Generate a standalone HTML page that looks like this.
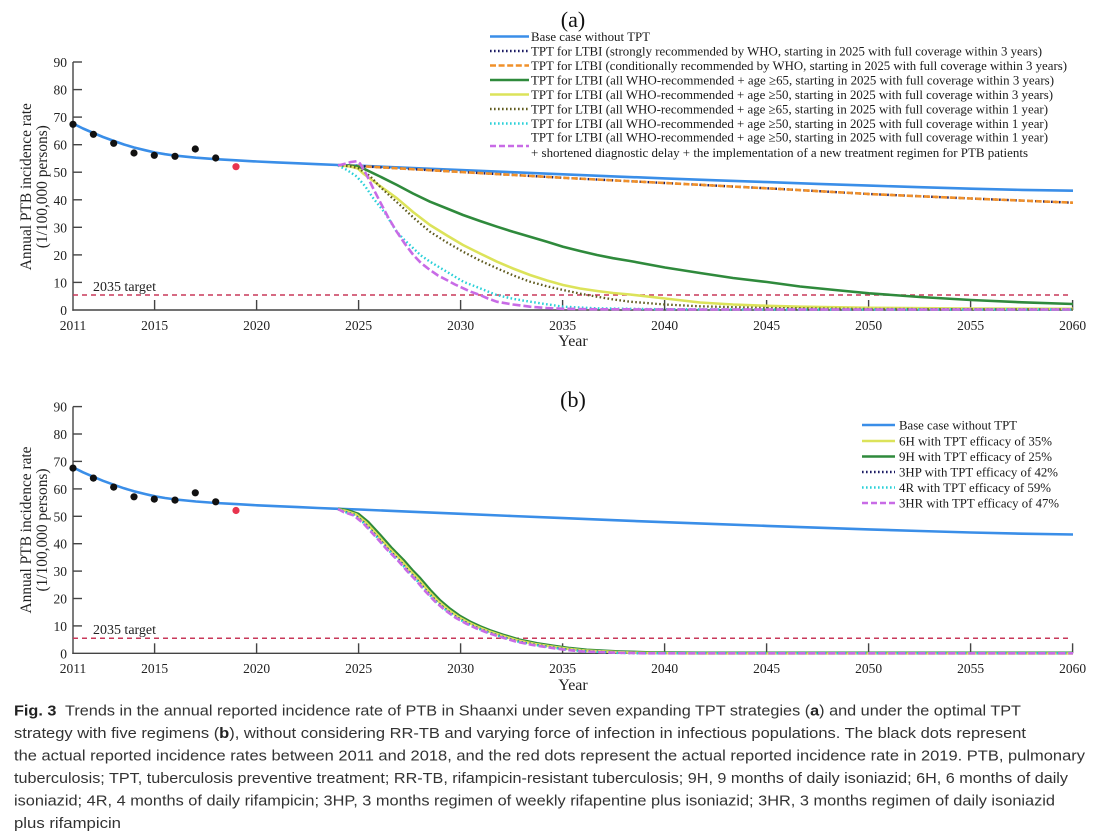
<!DOCTYPE html>
<html>
<head>
<meta charset="utf-8">
<style>
  html,body{margin:0;padding:0;background:#fff;}
  svg{display:block;}
  .tk{font-family:"Liberation Serif",serif;font-size:13.5px;fill:#222;}
  .lg{font-family:"Liberation Serif",serif;font-size:13px;fill:#1a1a1a;}
  .yl{font-family:"Liberation Serif",serif;font-size:16px;fill:#222;}
  .cap{font-family:"Liberation Sans",sans-serif;font-size:15px;fill:#333;}
</style>
</head>
<body>
<svg width="1113" height="837" viewBox="0 0 1113 837" xmlns="http://www.w3.org/2000/svg">
<rect width="1113" height="837" fill="#fff"/>

<!-- ================= PANEL (a) ================= -->
<text x="573" y="27" text-anchor="middle" font-family="Liberation Serif, serif" font-size="22" fill="#111">(a)</text>

<!-- axes -->
<g stroke="#444" stroke-width="1.4" fill="none">
  <line x1="73" y1="62" x2="73" y2="310.7"/>
  <line x1="72.3" y1="310" x2="1073" y2="310"/>
  <!-- y ticks -->
  <line x1="73" y1="62" x2="82" y2="62"/>
  <line x1="73" y1="89.6" x2="82" y2="89.6"/>
  <line x1="73" y1="117.1" x2="82" y2="117.1"/>
  <line x1="73" y1="144.7" x2="82" y2="144.7"/>
  <line x1="73" y1="172.2" x2="82" y2="172.2"/>
  <line x1="73" y1="199.8" x2="82" y2="199.8"/>
  <line x1="73" y1="227.3" x2="82" y2="227.3"/>
  <line x1="73" y1="254.9" x2="82" y2="254.9"/>
  <line x1="73" y1="282.4" x2="82" y2="282.4"/>
  <!-- x ticks -->
  <line x1="154.6" y1="310" x2="154.6" y2="300"/>
  <line x1="256.6" y1="310" x2="256.6" y2="300"/>
  <line x1="358.6" y1="310" x2="358.6" y2="300"/>
  <line x1="460.6" y1="310" x2="460.6" y2="300"/>
  <line x1="562.6" y1="310" x2="562.6" y2="300"/>
  <line x1="664.6" y1="310" x2="664.6" y2="300"/>
  <line x1="766.6" y1="310" x2="766.6" y2="300"/>
  <line x1="868.6" y1="310" x2="868.6" y2="300"/>
  <line x1="970.6" y1="310" x2="970.6" y2="300"/>
  <line x1="1072.6" y1="310" x2="1072.6" y2="300"/>
</g>
<g class="tk" text-anchor="end">
  <text x="67" y="67">90</text>
  <text x="67" y="94.6">80</text>
  <text x="67" y="122.1">70</text>
  <text x="67" y="149.7">60</text>
  <text x="67" y="177.2">50</text>
  <text x="67" y="204.8">40</text>
  <text x="67" y="232.3">30</text>
  <text x="67" y="259.9">20</text>
  <text x="67" y="287.4">10</text>
  <text x="67" y="315">0</text>
</g>
<g class="tk" text-anchor="middle">
  <text x="73" y="330">2011</text>
  <text x="154.6" y="330">2015</text>
  <text x="256.6" y="330">2020</text>
  <text x="358.6" y="330">2025</text>
  <text x="460.6" y="330">2030</text>
  <text x="562.6" y="330">2035</text>
  <text x="664.6" y="330">2040</text>
  <text x="766.6" y="330">2045</text>
  <text x="868.6" y="330">2050</text>
  <text x="970.6" y="330">2055</text>
  <text x="1072.6" y="330">2060</text>
</g>
<text x="573" y="346" text-anchor="middle" font-family="Liberation Serif, serif" font-size="16" fill="#222">Year</text>
<text class="yl" transform="translate(31,186.7) rotate(-90)" text-anchor="middle" textLength="167" lengthAdjust="spacingAndGlyphs">Annual PTB incidence rate</text>
<text class="yl" transform="translate(47,186.7) rotate(-90)" text-anchor="middle" textLength="123" lengthAdjust="spacingAndGlyphs">(1/100,000 persons)</text>

<!-- target -->
<line x1="73" y1="295" x2="1071" y2="295" stroke="#c8385a" stroke-width="1.5" stroke-dasharray="5 4"/>
<text x="93" y="291" font-family="Liberation Serif, serif" font-size="13.5" fill="#222" textLength="63" lengthAdjust="spacingAndGlyphs">2035 target</text>

<!-- series (a) -->
<g fill="none" stroke-linejoin="round">
  <polyline stroke="#3a8ee8" stroke-width="2.6" points="73,123.5 83,128.5 93.4,133 103,137 114,141 124,144.5 134,147.5 145,150.2 155,152.5 165,154.2 175,155.6 186,156.7 196,157.7 216,159.2 236,160.3 257,161.5 277,162.4 298,163.3 318,164.2 338,165 359,165.7 410,167.9 461,170 512,172.2 563,174.3 614,176.4 665,178.4 716,180.3 767,182.1 818,183.9 869,185.6 920,187.2 971,188.7 1022,189.9 1073,190.7"/>
  <polyline stroke="#1c1c64" stroke-width="2.4" stroke-dasharray="1.6 2.4" points="340,165.2 358,166 461,172 563,177.8 665,183 780,189 869,194 971,198.5 1073,202.7"/>
  <polyline stroke="#f0902a" stroke-width="2.6" stroke-dasharray="6 2.6" points="340,165.2 358,166 461,172 563,177.8 665,183 780,189 869,194 971,198.5 1073,202.7"/>
  <polyline stroke="#2f8a3c" stroke-width="2.6" points="338,165.2 350,165.8 358,166.5 363,168.3 380,176.5 397,185 413,193.5 430,201.7 447,208.5 463,215 480,221 497,226.7 513,231.8 530,236.7 547,241.7 563,246.7 580,251 597,255 613,258.2 630,261 665,267.5 700,273 733,278 767,282 800,286.5 835,290 869,293.3 920,297 971,300 1022,302.3 1073,304"/>
  <polyline stroke="#dce35a" stroke-width="2.6" points="338,165.2 350,166.5 358,168.5 363,173.3 380,186 397,198.3 413,212 430,225 447,235.5 463,245 480,253.5 497,261.7 513,268.5 530,275 547,280.5 563,285 580,288.5 597,291 613,293 630,294.5 665,298.5 700,302.5 733,304.5 767,305.8 800,306.7 869,307.8 971,308.6 1073,308.8"/>
  <polyline stroke="#5f5a1e" stroke-width="2.3" stroke-dasharray="1.6 2.4" points="338,165.2 350,166.3 358,168 370,176 380,186.7 390,196 400,205 415,219 430,231.7 447,242.5 463,251.7 480,260.5 497,268.3 513,275.3 530,281.7 547,286.3 563,290 580,293.6 597,296.7 613,299.4 630,301.7 665,304.5 700,306.3 767,308 869,309 1073,309.4"/>
  <polyline stroke="#2ad0d8" stroke-width="2.4" stroke-dasharray="1.6 2.4" points="338,165.5 347,170 356.7,176.5 365,186 373.3,198.3 385,213 396.7,231.7 405,240.5 413.3,248.3 421,255.5 430,261.7 446.7,271.7 463.3,281.7 480,288.3 496.7,295 513,298.8 530,301.7 547,304.3 563.3,306.7 597,308.3 650,309.1 750,309.5 1073,309.5"/>
  <polyline stroke="#c86be6" stroke-width="2.6" stroke-dasharray="8 3" points="338,165.5 345,163.8 351,162 356.7,161.2 360,163.5 366.7,175 373,188 380,201.7 388,217 396.7,231.7 405,244 413.3,255 421,263 430,270 438,275.5 446.7,280 455,284.5 463.3,288.3 471,291.8 480,295 488,298.5 496.7,301.7 513,304.5 530,306.7 547,308 563.3,308.8 600,309.3 700,309.5 1073,309.5"/>
</g>
<!-- dots (a) -->
<g fill="#111">
  <circle cx="73" cy="124.3" r="3.6"/>
  <circle cx="93.4" cy="134.3" r="3.6"/>
  <circle cx="113.7" cy="143.3" r="3.6"/>
  <circle cx="134" cy="153" r="3.6"/>
  <circle cx="154.3" cy="155.3" r="3.6"/>
  <circle cx="175" cy="156.3" r="3.6"/>
  <circle cx="195.3" cy="149" r="3.6"/>
  <circle cx="215.7" cy="158" r="3.6"/>
</g>
<circle cx="236" cy="166.7" r="3.6" fill="#e8344e"/>

<!-- legend (a) -->
<g fill="none">
  <line x1="490" y1="36.5" x2="529" y2="36.5" stroke="#3a8ee8" stroke-width="2.6"/>
  <line x1="490" y1="51" x2="529" y2="51" stroke="#1c1c64" stroke-width="2.4" stroke-dasharray="1.6 2.4"/>
  <line x1="490" y1="65.5" x2="529" y2="65.5" stroke="#f0902a" stroke-width="2.6" stroke-dasharray="6 2.6"/>
  <line x1="490" y1="80" x2="529" y2="80" stroke="#2f8a3c" stroke-width="2.6"/>
  <line x1="490" y1="94.5" x2="529" y2="94.5" stroke="#dce35a" stroke-width="2.6"/>
  <line x1="490" y1="109" x2="529" y2="109" stroke="#5f5a1e" stroke-width="2.4" stroke-dasharray="1.6 2.4"/>
  <line x1="490" y1="123.5" x2="529" y2="123.5" stroke="#2ad0d8" stroke-width="2.4" stroke-dasharray="1.6 2.4"/>
  <line x1="490" y1="146" x2="529" y2="146" stroke="#c86be6" stroke-width="2.6" stroke-dasharray="6 3"/>
</g>
<g class="lg">
  <text x="531" y="41" textLength="119" lengthAdjust="spacingAndGlyphs">Base case without TPT</text>
  <text x="531" y="55.5" textLength="511" lengthAdjust="spacingAndGlyphs">TPT for LTBI (strongly recommended by WHO, starting in 2025 with full coverage within 3 years)</text>
  <text x="531" y="70" textLength="536" lengthAdjust="spacingAndGlyphs">TPT for LTBI (conditionally recommended by WHO, starting in 2025 with full coverage within 3 years)</text>
  <text x="531" y="84.5" textLength="523" lengthAdjust="spacingAndGlyphs">TPT for LTBI (all WHO-recommended + age ≥65, starting in 2025 with full coverage within 3 years)</text>
  <text x="531" y="99" textLength="522" lengthAdjust="spacingAndGlyphs">TPT for LTBI (all WHO-recommended + age ≥50, starting in 2025 with full coverage within 3 years)</text>
  <text x="531" y="113.5" textLength="517" lengthAdjust="spacingAndGlyphs">TPT for LTBI (all WHO-recommended + age ≥65, starting in 2025 with full coverage within 1 year)</text>
  <text x="531" y="128" textLength="517" lengthAdjust="spacingAndGlyphs">TPT for LTBI (all WHO-recommended + age ≥50, starting in 2025 with full coverage within 1 year)</text>
  <text x="531" y="141.5" textLength="517" lengthAdjust="spacingAndGlyphs">TPT for LTBI (all WHO-recommended + age ≥50, starting in 2025 with full coverage within 1 year)</text>
  <text x="531" y="157" textLength="497" lengthAdjust="spacingAndGlyphs">+ shortened diagnostic delay + the implementation of a new treatment regimen for PTB patients</text>
</g>

<!-- ================= PANEL (b) ================= -->
<text x="573" y="407" text-anchor="middle" font-family="Liberation Serif, serif" font-size="22" fill="#111">(b)</text>

<g stroke="#444" stroke-width="1.4" fill="none">
  <line x1="73" y1="406.6" x2="73" y2="654"/>
  <line x1="72.3" y1="653.3" x2="1073" y2="653.3"/>
  <line x1="73" y1="406.6" x2="82" y2="406.6"/>
  <line x1="73" y1="434" x2="82" y2="434"/>
  <line x1="73" y1="461.4" x2="82" y2="461.4"/>
  <line x1="73" y1="488.9" x2="82" y2="488.9"/>
  <line x1="73" y1="516.3" x2="82" y2="516.3"/>
  <line x1="73" y1="543.7" x2="82" y2="543.7"/>
  <line x1="73" y1="571.1" x2="82" y2="571.1"/>
  <line x1="73" y1="598.5" x2="82" y2="598.5"/>
  <line x1="73" y1="625.9" x2="82" y2="625.9"/>
  <line x1="154.6" y1="653.3" x2="154.6" y2="643.3"/>
  <line x1="256.6" y1="653.3" x2="256.6" y2="643.3"/>
  <line x1="358.6" y1="653.3" x2="358.6" y2="643.3"/>
  <line x1="460.6" y1="653.3" x2="460.6" y2="643.3"/>
  <line x1="562.6" y1="653.3" x2="562.6" y2="643.3"/>
  <line x1="664.6" y1="653.3" x2="664.6" y2="643.3"/>
  <line x1="766.6" y1="653.3" x2="766.6" y2="643.3"/>
  <line x1="868.6" y1="653.3" x2="868.6" y2="643.3"/>
  <line x1="970.6" y1="653.3" x2="970.6" y2="643.3"/>
  <line x1="1072.6" y1="653.3" x2="1072.6" y2="643.3"/>
</g>
<g class="tk" text-anchor="end">
  <text x="67" y="411.6">90</text>
  <text x="67" y="439">80</text>
  <text x="67" y="466.4">70</text>
  <text x="67" y="493.9">60</text>
  <text x="67" y="521.3">50</text>
  <text x="67" y="548.7">40</text>
  <text x="67" y="576.1">30</text>
  <text x="67" y="603.5">20</text>
  <text x="67" y="630.9">10</text>
  <text x="67" y="658.3">0</text>
</g>
<g class="tk" text-anchor="middle">
  <text x="73" y="673">2011</text>
  <text x="154.6" y="673">2015</text>
  <text x="256.6" y="673">2020</text>
  <text x="358.6" y="673">2025</text>
  <text x="460.6" y="673">2030</text>
  <text x="562.6" y="673">2035</text>
  <text x="664.6" y="673">2040</text>
  <text x="766.6" y="673">2045</text>
  <text x="868.6" y="673">2050</text>
  <text x="970.6" y="673">2055</text>
  <text x="1072.6" y="673">2060</text>
</g>
<text x="573" y="690" text-anchor="middle" font-family="Liberation Serif, serif" font-size="16" fill="#222">Year</text>
<text class="yl" transform="translate(31,530) rotate(-90)" text-anchor="middle" textLength="167" lengthAdjust="spacingAndGlyphs">Annual PTB incidence rate</text>
<text class="yl" transform="translate(47,530) rotate(-90)" text-anchor="middle" textLength="123" lengthAdjust="spacingAndGlyphs">(1/100,000 persons)</text>

<line x1="73" y1="638.3" x2="1071" y2="638.3" stroke="#c8385a" stroke-width="1.5" stroke-dasharray="5 4"/>
<text x="93" y="634" font-family="Liberation Serif, serif" font-size="13.5" fill="#222" textLength="63" lengthAdjust="spacingAndGlyphs">2035 target</text>

<!-- base (b) -->
<g transform="translate(0,343.8)">
  <polyline fill="none" stroke="#3a8ee8" stroke-width="2.6" stroke-linejoin="round" points="73,123.5 83,128.5 93.4,133 103,137 114,141 124,144.5 134,147.5 145,150.2 155,152.5 165,154.2 175,155.6 186,156.7 196,157.7 216,159.2 236,160.3 257,161.5 277,162.4 298,163.3 318,164.2 338,165 359,165.7 410,167.9 461,170 512,172.2 563,174.3 614,176.4 665,178.4 716,180.3 767,182.1 818,183.9 869,185.6 920,187.2 971,188.7 1022,189.9 1073,190.7"/>
  <g fill="#111">
    <circle cx="73" cy="124.3" r="3.6"/>
    <circle cx="93.4" cy="134.3" r="3.6"/>
    <circle cx="113.7" cy="143.3" r="3.6"/>
    <circle cx="134" cy="153" r="3.6"/>
    <circle cx="154.3" cy="155.3" r="3.6"/>
    <circle cx="175" cy="156.3" r="3.6"/>
    <circle cx="195.3" cy="149" r="3.6"/>
    <circle cx="215.7" cy="158" r="3.6"/>
  </g>
  <circle cx="236" cy="166.7" r="3.6" fill="#e8344e"/>
</g>

<!-- regimens (b) -->
<g fill="none" stroke-linejoin="round">
  <polyline stroke="#2f8a3c" stroke-width="3" points="338,508.8 348,510.5 358.3,514 368,522 380,535 391,547.5 403.3,560 412,570 420,578.3 430,590 440,600.5 450,609 460,616.2 470,621.8 480,626.5 490,630.5 503.3,635 520,640 537,643.5 553.3,646 570,648.3 586.7,650 620,651.7 650,652.6 700,653 1073,653"/>
  <g transform="translate(-2,0.5)">
  <polyline stroke="#dce35a" stroke-width="2.6" points="340,508.8 348,510.5 358.3,514 368,522 380,535 391,547.5 403.3,560 412,570 420,578.3 430,590 440,600.5 450,609 460,616.2 470,621.8 480,626.5 490,630.5 503.3,635 520,640 537,643.5 553.3,646 570,648.3 586.7,650 620,651.7 650,652.6 700,653 1075,653"/>
  </g>
  <g transform="translate(-3.5,1)">
  <polyline stroke="#1c1c64" stroke-width="2.3" stroke-dasharray="1.6 2.4" points="341.5,508.3 348,510.5 358.3,514 368,522 380,535 391,547.5 403.3,560 412,570 420,578.3 430,590 440,600.5 450,609 460,616.2 470,621.8 480,626.5 490,630.5 503.3,635 520,640 537,643.5 553.3,646 570,648.3 586.7,650 620,651.7 650,652.3 700,652.3 1076.5,652.3"/>
  </g>
  <g transform="translate(-4,1.2)">
  <polyline stroke="#2ad0d8" stroke-width="2.3" stroke-dasharray="1.6 2.4" points="342,508 348,510.5 358.3,514 368,522 380,535 391,547.5 403.3,560 412,570 420,578.3 430,590 440,600.5 450,609 460,616.2 470,621.8 480,626.5 490,630.5 503.3,635 520,640 537,643.5 553.3,646 570,648.3 586.7,650 620,651.7 650,652.1 700,652.1 1077,652.1"/>
  </g>
  <g transform="translate(-4.5,1.5)">
  <polyline stroke="#c86be6" stroke-width="2.6" stroke-dasharray="7 3" points="342.5,507.5 348,510.5 358.3,514 368,522 380,535 391,547.5 403.3,560 412,570 420,578.3 430,590 440,600.5 450,609 460,616.2 470,621.8 480,626.5 490,630.5 503.3,635 520,640 537,643.5 553.3,646 570,648.3 586.7,650 620,651.2 650,651.8 700,651.8 1077.5,651.8"/>
  </g>
</g>

<!-- legend (b) -->
<g fill="none">
  <line x1="862" y1="425" x2="895" y2="425" stroke="#3a8ee8" stroke-width="2.6"/>
  <line x1="862" y1="441" x2="895" y2="441" stroke="#dce35a" stroke-width="2.6"/>
  <line x1="862" y1="456.5" x2="895" y2="456.5" stroke="#2f8a3c" stroke-width="2.6"/>
  <line x1="862" y1="472" x2="895" y2="472" stroke="#1c1c64" stroke-width="2.4" stroke-dasharray="1.6 2.4"/>
  <line x1="862" y1="487.5" x2="895" y2="487.5" stroke="#2ad0d8" stroke-width="2.4" stroke-dasharray="1.6 2.4"/>
  <line x1="862" y1="503" x2="895" y2="503" stroke="#c86be6" stroke-width="2.6" stroke-dasharray="6 3"/>
</g>
<g class="lg" font-size="13.5">
  <text x="899" y="429.5" textLength="118" lengthAdjust="spacingAndGlyphs">Base case without TPT</text>
  <text x="899" y="445.5" textLength="153" lengthAdjust="spacingAndGlyphs">6H with TPT efficacy of 35%</text>
  <text x="899" y="461" textLength="153" lengthAdjust="spacingAndGlyphs">9H with TPT efficacy of 25%</text>
  <text x="899" y="476.5" textLength="159" lengthAdjust="spacingAndGlyphs">3HP with TPT efficacy of 42%</text>
  <text x="899" y="492" textLength="152" lengthAdjust="spacingAndGlyphs">4R with TPT efficacy of 59%</text>
  <text x="899" y="507.5" textLength="160" lengthAdjust="spacingAndGlyphs">3HR with TPT efficacy of 47%</text>
</g>

<!-- ================= CAPTION ================= -->
<g class="cap">
  <text x="14" y="715.5" textLength="1007" lengthAdjust="spacingAndGlyphs"><tspan font-weight="bold" fill="#222">Fig. 3</tspan><tspan dx="8">Trends in the annual reported incidence rate of PTB in Shaanxi under seven expanding TPT strategies (</tspan><tspan font-weight="bold" fill="#222">a</tspan><tspan>) and under the optimal TPT</tspan></text>
  <text x="14" y="738" textLength="1012" lengthAdjust="spacingAndGlyphs">strategy with five regimens (<tspan font-weight="bold" fill="#222">b</tspan>), without considering RR-TB and varying force of infection in infectious populations. The black dots represent</text>
  <text x="14" y="760.5" textLength="1071" lengthAdjust="spacingAndGlyphs">the actual reported incidence rates between 2011 and 2018, and the red dots represent the actual reported incidence rate in 2019. PTB, pulmonary</text>
  <text x="14" y="783" textLength="1054" lengthAdjust="spacingAndGlyphs">tuberculosis; TPT, tuberculosis preventive treatment; RR-TB, rifampicin-resistant tuberculosis; 9H, 9 months of daily isoniazid; 6H, 6 months of daily</text>
  <text x="14" y="805.5" textLength="1041" lengthAdjust="spacingAndGlyphs">isoniazid; 4R, 4 months of daily rifampicin; 3HP, 3 months regimen of weekly rifapentine plus isoniazid; 3HR, 3 months regimen of daily isoniazid</text>
  <text x="14" y="828" textLength="107" lengthAdjust="spacingAndGlyphs">plus rifampicin</text>
</g>
</svg>
</body>
</html>
